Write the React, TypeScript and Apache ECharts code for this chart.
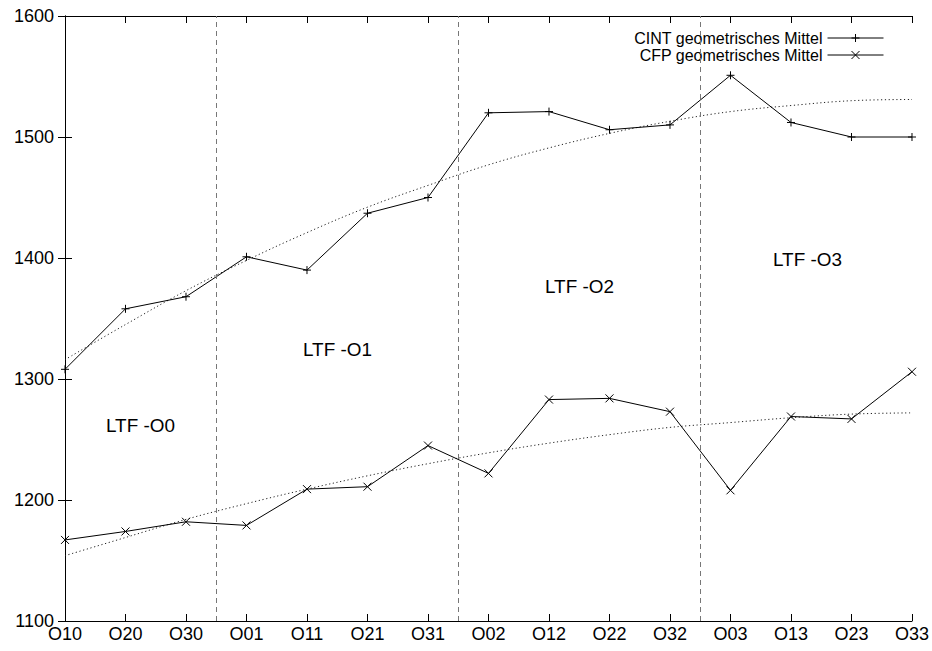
import React, { useEffect, useRef } from "react";
import * as echarts from "echarts";

const categories = ["O10", "O20", "O30", "O01", "O11", "O21", "O31", "O02", "O12", "O22", "O32", "O03", "O13", "O23", "O33"];
const cintMean = [1308, 1358, 1368, 1401, 1390, 1437, 1450, 1520, 1521, 1506, 1510, 1551, 1512, 1500, 1500];
const cfpMean = [1167, 1174, 1182, 1179, 1209, 1211, 1245, 1222, 1283, 1284, 1273, 1208, 1269, 1267, 1306];
const cintTrend = [1316, 1345, 1373, 1398, 1421, 1442, 1460, 1477, 1491, 1503, 1513, 1521, 1526, 1530, 1531];
const cfpTrend = [1154, 1169, 1184, 1197, 1209, 1220, 1230, 1239, 1247, 1254, 1260, 1264, 1268, 1271, 1272];
const yMin = 1100;
const yMax = 1600;
const yStep = 100;
const phaseBoundaries = [2.5, 6.5, 10.5];
const phaseLabels = ["LTF -O0", "LTF -O1", "LTF -O2", "LTF -O3"];
const seriesNames = ["CINT geometrisches Mittel", "CFP geometrisches Mittel"];

const FONT = '"Liberation Sans", Arial, Helvetica, sans-serif';
const PLUS = "path://M0,5L10,5M5,0L5,10";
const CROSS = "path://M0,0L10,10M0,10L10,0";

const labelPos = [
  [106, 426],
  [303, 350],
  [545, 287],
  [773, 260],
];

export default function App() {
  const ref = useRef<HTMLDivElement>(null);
  useEffect(() => {
    if (!ref.current) return;
    const chart = echarts.init(ref.current, null, { renderer: "svg" });
    const pairs = (arr: number[]) => arr.map((v, i) => [i, v]);
    const axisLine = { show: true, lineStyle: { color: "#000", width: 1 } };
    const tick = { show: true, inside: true, length: 7, lineStyle: { color: "#000", width: 1 } };
    const xBase = {
      type: "value",
      min: 0,
      max: categories.length - 1,
      interval: 1,
      axisLine,
      axisTick: tick,
      splitLine: { show: false },
    };
    const yBase = {
      type: "value",
      min: yMin,
      max: yMax,
      interval: yStep,
      axisLine,
      axisTick: tick,
      splitLine: { show: false },
    };
    const markerSeries = (name: string, data: number[], symbol: string) => ({
      name,
      type: "line",
      data: pairs(data),
      symbol,
      symbolSize: 8,
      showSymbol: true,
      lineStyle: { color: "#000", width: 1 },
      itemStyle: { color: "#000", borderColor: "#000", borderWidth: 1 },
      emphasis: { disabled: true },
      z: 3,
    });
    const trendSeries = (data: number[]) => ({
      type: "line",
      data: pairs(data),
      symbol: "none",
      smooth: 0.4,
      lineStyle: { color: "#222", width: 1, type: [1.2, 2.6] },
      emphasis: { disabled: true },
      silent: true,
      z: 2,
    });
    chart.setOption({
      animation: false,
      textStyle: { fontFamily: FONT },
      grid: { left: 65, right: 19, top: 16, bottom: 30, containLabel: false },
      legend: {
        data: seriesNames,
        orient: "vertical",
        right: 43,
        top: 25,
        align: "right",
        itemWidth: 56,
        itemHeight: 10,
        itemGap: 1,
        selectedMode: false,
        lineStyle: { width: 1 },
        itemStyle: { borderWidth: 1 },
        textStyle: { fontSize: 16, fontFamily: FONT, color: "#000", lineHeight: 16 },
      },
      xAxis: [
        {
          ...xBase,
          position: "bottom",
          axisLabel: {
            show: true,
            color: "#000",
            fontSize: 18,
            fontFamily: FONT,
            margin: 4,
            formatter: (v: number) => categories[v] ?? "",
          },
        },
        { ...xBase, position: "top", axisLabel: { show: false } },
      ],
      yAxis: [
        {
          ...yBase,
          position: "left",
          axisLabel: {
            show: true,
            color: "#000",
            fontSize: 18,
            fontFamily: FONT,
            margin: 11,
            formatter: (v: number) => String(v),
          },
        },
        { ...yBase, position: "right", axisLabel: { show: false } },
      ],
      series: [
        {
          ...markerSeries(seriesNames[0], cintMean, PLUS),
          markLine: {
            silent: true,
            symbol: "none",
            label: { show: false },
            lineStyle: { color: "#777", width: 1, type: [5, 4] },
            data: phaseBoundaries.map((x) => ({ xAxis: x })),
          },
        },
        markerSeries(seriesNames[1], cfpMean, CROSS),
        trendSeries(cintTrend),
        trendSeries(cfpTrend),
      ],
      graphic: phaseLabels.map((t, i) => ({
        type: "text",
        x: labelPos[i][0],
        y: labelPos[i][1],
        scaleX: 1.05,
        silent: true,
        style: { text: t, fontSize: 18, fontFamily: FONT, fill: "#000", verticalAlign: "middle", align: "left" },
      })),
    });
    return () => chart.dispose();
  }, []);
  return <div ref={ref} style={{ position: "fixed", left: 0, top: 0, width: 932, height: 651, background: "#fff" }} />;
}
